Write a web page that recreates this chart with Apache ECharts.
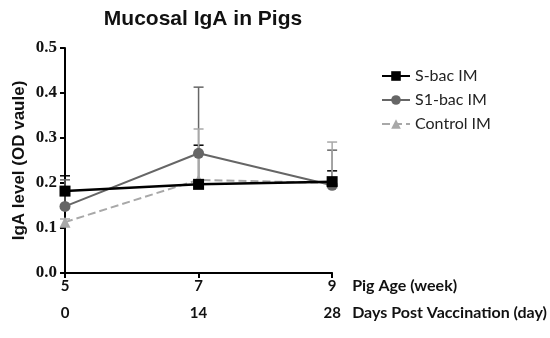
<!DOCTYPE html>
<html><head><meta charset="utf-8">
<script src="https://cdn.jsdelivr.net/npm/echarts@6/dist/echarts.min.js"></script>
<style>html,body{margin:0;padding:0;background:#fff}#c{width:550px;height:338px}</style>
</head><body><div id="c"></div>
<script>
var ageWeeks = [5, 7, 9];
var daysPost = ['0', '14', '28'];
var yTicks = [0, 0.1, 0.2, 0.3, 0.4, 0.5];
var seriesNames = ['S-bac IM', 'S1-bac IM', 'Control IM'];
var sbacMean = [0.182, 0.197, 0.203];
var sbacErr = [0.034, 0.087, 0.024];
var s1Mean = [0.148, 0.266, 0.195];
var s1Err = [0.059, 0.147, 0.078];
var ctrlMean = [0.113, 0.207, 0.200];
var ctrlErr = [0.007, 0.113, 0.091];

var colors = ['#000000', '#666666', '#a8a8a8'];
var means = [sbacMean, s1Mean, ctrlMean];
var errs = [sbacErr, s1Err, ctrlErr];
var symbols = ['rect', 'circle', 'triangle'];
var widths = [2.5, 2, 2];
var types = ['solid', 'solid', 'dashed'];

var chart = echarts.init(document.getElementById('c'), null, {renderer: 'canvas'});
var series = [];
for (var i = 0; i < 3; i++) {
  (function (i) {
    var d = ageWeeks.map(function (x, k) { return [x, means[i][k], means[i][k] + errs[i][k]]; });
    series.push({
      type: 'custom', name: seriesNames[i] + ' err', silent: true, z: 1 + i,
      data: d,
      renderItem: function (params, api) {
        var p0 = api.coord([api.value(0), api.value(1)]);
        var p1 = api.coord([api.value(0), api.value(2)]);
        var w = 5;
        return {
          type: 'group', children: [
            {type: 'line', shape: {x1: p0[0], y1: p0[1], x2: p1[0], y2: p1[1]}, style: {stroke: colors[i], lineWidth: 1.5}},
            {type: 'line', shape: {x1: p1[0] - w, y1: p1[1], x2: p1[0] + w, y2: p1[1]}, style: {stroke: colors[i], lineWidth: 1.5}}
          ]
        };
      }
    });
    series.push({
      type: 'line', name: seriesNames[i], z: 10 - i,
      data: ageWeeks.map(function (x, k) { return [x, means[i][k]]; }),
      symbol: symbols[i], symbolSize: 11,
      itemStyle: {color: colors[i]},
      lineStyle: {color: colors[i], width: widths[i], type: types[i]}
    });
  })(i);
}

var lblFont = {fontFamily: 'Lato', fontWeight: 'bold', fontSize: 15, color: '#111'};
var nameFont = {fontFamily: 'Lato', fontWeight: 'bold', fontSize: 16, color: '#111', align: 'left', verticalAlign: 'top', padding: [5, 0, 0, 0]};

chart.setOption({
  animation: false,
  title: {
    text: 'Mucosal IgA in Pigs', left: 198, top: 4, textAlign: 'center',
    textStyle: {fontFamily: 'Liberation Sans', fontWeight: 'bold', fontSize: 21, color: '#111'}
  },
  legend: {
    data: seriesNames, orient: 'vertical', left: 376, top: 63, itemGap: 8,
    itemWidth: 28, itemHeight: 12,
    textStyle: {fontFamily: 'Lato', fontSize: 16, color: '#222'}
  },
  grid: {left: 65, right: 217, top: 48, bottom: 65},
  xAxis: [{
    type: 'value', min: 5, max: 9, interval: 2, position: 'bottom',
    axisLine: {lineStyle: {color: '#000', width: 2}},
    axisTick: {length: 5, lineStyle: {color: '#000', width: 2}},
    splitLine: {show: false},
    axisLabel: Object.assign({margin: 6, formatter: function (v) { return ageWeeks.indexOf(v) >= 0 ? String(v) : ''; }}, lblFont),
    name: 'Pig Age (week)', nameLocation: 'end', nameGap: 20,
    nameTextStyle: nameFont
  }, {
    type: 'value', min: 5, max: 9, interval: 2, position: 'bottom', offset: 27,
    axisLine: {show: false}, axisTick: {show: false}, splitLine: {show: false},
    axisLabel: Object.assign({margin: 6, formatter: function (v) { var k = ageWeeks.indexOf(v); return k >= 0 ? daysPost[k] : ''; }}, lblFont),
    name: 'Days Post Vaccination (day)', nameLocation: 'end', nameGap: 20,
    nameTextStyle: nameFont
  }],
  yAxis: {
    type: 'value', min: yTicks[0], max: yTicks[yTicks.length - 1], interval: 0.1,
    axisLine: {show: true, lineStyle: {color: '#000', width: 2}},
    axisTick: {show: true, length: 5, lineStyle: {color: '#000', width: 2}},
    splitLine: {show: false},
    axisLabel: {margin: 8, fontFamily: 'Liberation Serif', fontWeight: 'bold', fontSize: 17, color: '#111',
      formatter: function (v) { return v.toFixed(1); }},
    name: 'IgA level (OD vaule)', nameLocation: 'middle', nameGap: 37,
    nameTextStyle: {fontFamily: 'Liberation Sans', fontWeight: 'bold', fontSize: 17, color: '#111'}
  },
  series: series
});
</script></body></html>
